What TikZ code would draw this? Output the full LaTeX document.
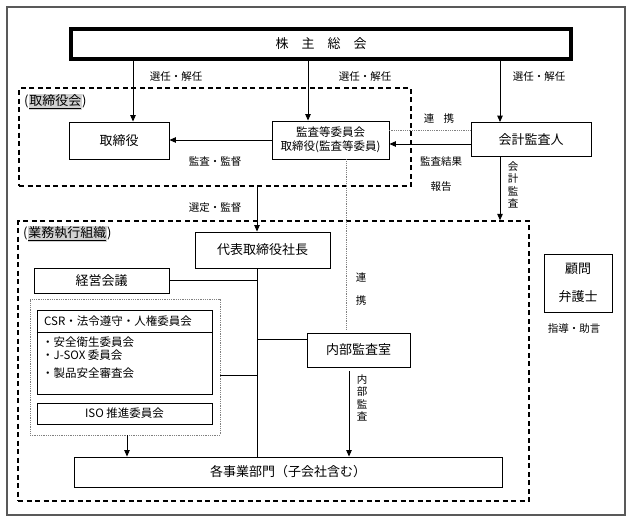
\documentclass[tikz,border=0pt]{standalone}
\usepackage{fontspec}
\setmainfont{Noto Sans CJK JP}
\usetikzlibrary{arrows.meta,calc}
\definecolor{hlgray}{gray}{0.82}
\definecolor{framec}{gray}{0.35}
\newcommand\grayul[1]{{\setlength{\fboxsep}{0.8pt}\colorbox{hlgray}{\underline{#1}}}}
\begin{document}
\begin{tikzpicture}[x=1pt,y=-1pt,
  box/.style={draw, line width=0.9pt, inner sep=0pt, align=center, font=\fontsize{13}{15}\selectfont},
  sbox/.style={box, font=\fontsize{11.5}{14.5}\selectfont},
  lbl/.style={inner sep=0pt, font=\fontsize{10.5}{12}\selectfont},
  vlbl/.style={inner sep=0pt, align=center, font=\fontsize{10.5}{12.3}\selectfont},
  arr/.style={-{Triangle[length=6.5pt,width=5.5pt]}, line width=0.9pt},
  conn/.style={line width=0.9pt},
  dbox/.style={draw, line width=1.3pt, dash pattern=on 5pt off 3.5pt, inner sep=0pt},
  dotl/.style={draw=gray, line width=0.8pt, densely dotted},
  grp/.style={draw=gray, line width=0.8pt, densely dotted, inner sep=0pt}]
\useasboundingbox (0,0) rectangle (632,522);
\draw[framec, line width=1.2pt] (7,7) rectangle (625,515);

% top
\node[box, line width=3.5pt, minimum width=500, minimum height=30, font=\fontsize{13}{15}\selectfont] (soukai) at (321,44) {株　主　総　会};

% board dashed area
\node[dbox, minimum width=392, minimum height=98] (torikai) at (215,137) {};
\node[lbl, font=\fontsize{13}{15}\selectfont, anchor=west] (torikailbl) at (24,102) {(\grayul{取締役会})};

\node[box, minimum width=100, minimum height=37] (tori) at (119,140.5) {取締役};
\node[sbox, minimum width=117, minimum height=38] (kansa) at (330.5,140) {監査等委員会\\取締役(監査等委員)};
\node[box, minimum width=120, minimum height=34] (kaikei) at (531,139.5) {会計監査人};

% arrows from soukai
\draw[arr] ([xshift=14pt]soukai.south -| tori.north) coordinate (a1) -- (a1 |- tori.north);
\draw[arr] ([xshift=-22.5pt]soukai.south -| kansa.north) coordinate (a2) -- (a2 |- kansa.north);
\draw[arr] ([xshift=-31pt]soukai.south -| kaikei.north) coordinate (a3) -- (a3 |- kaikei.north);
\node[lbl] (l1) at (176,77) {選任・解任};
\node[lbl] (l2) at (365,77) {選任・解任};
\node[lbl] (l3) at (539,77) {選任・解任};

% board connections
\draw[arr] (kansa.west) -- (kansa.west -| tori.east);
\node[lbl] (l4) at (215,162) {監査・監督};
\draw[dotl] ([yshift=9.5pt]kaikei.west) coordinate (d1) -- (d1 -| kansa.east);
\draw[arr] ([yshift=-4.5pt]kaikei.west) coordinate (d2) -- (d2 -| kansa.east);
\node[lbl] (l5) at (439,119) {連\hspace{0.9em}携};
\node[lbl] (l6) at (441,162) {監査結果};
\node[lbl] (l7) at (441,187) {報告};

% business execution area
\node[dbox, minimum width=511, minimum height=280] (gyomu) at (273.5,361) {};
\node[lbl, font=\fontsize{13}{15}\selectfont, anchor=west] (gyomulbl) at (23,234) {(\grayul{業務執行組織})};

\draw[arr] ([xshift=-31pt]kaikei.south) coordinate (a4) -- (a4 |- gyomu.north);
\node[vlbl] (l8) at (513,185) {会\\計\\監\\査};

\node[box, minimum width=135, minimum height=36] (daihyo) at (262.5,250) {代表取締役社長};
\coordinate (trunk) at (257,0);
\draw[arr] (trunk |- torikai.south) -- (trunk |- daihyo.north);
\node[lbl] (l9) at (215,208) {選定・監督};

\node[box, minimum width=135, minimum height=25] (keiei) at (101.5,280.5) {経営会議};

\node[grp, minimum width=190, minimum height=136] (grp) at (125,367) {};
\node[draw, line width=0.9pt, inner sep=0pt, minimum width=175, minimum height=84] (csr) at (124.5,352) {};
\draw[conn] ([yshift=-23pt]csr.north west) -- ([yshift=-23pt]csr.north east);
\node[lbl, font=\fontsize{11.5}{13}\selectfont, anchor=west] (csrh) at (44,321.5) {CSR・法令遵守・人権委員会};
\node[lbl, font=\fontsize{11.5}{13}\selectfont, anchor=west] (c1) at (42,342) {・安全衛生委員会};
\node[lbl, font=\fontsize{11.5}{13}\selectfont, anchor=west] (c2) at (42,355) {・J-SOX 委員会};
\node[lbl, font=\fontsize{11.5}{13}\selectfont, anchor=west] (c3) at (42,373) {・製品安全審査会};
\node[sbox, minimum width=175, minimum height=21] (iso) at (124.5,413.5) {ISO 推進委員会};

\node[box, minimum width=103, minimum height=34] (naibu) at (358.5,350) {内部監査室};
\node[box, minimum width=428, minimum height=30] (kaku) at (288,472) {各事業部門（子会社含む）};

\draw[conn] (trunk |- daihyo.south) -- (trunk |- kaku.north);
\draw[conn] (keiei.east) -- (keiei.east -| trunk);
\draw[conn] ([yshift=-8pt]grp.east) coordinate (g1) -- (g1 -| trunk);
\draw[conn] ([yshift=11pt]naibu.west) coordinate (n1) -- (n1 -| trunk);
\draw[arr] ([xshift=2pt]grp.south) coordinate (g2) -- (g2 |- kaku.north);
\draw[arr, shorten <=4pt] ([xshift=-9.5pt]naibu.south) coordinate (n2) -- (n2 |- kaku.north);
\node[vlbl] (l10) at (362,398) {内\\部\\監\\査};

\draw[dotl] ([xshift=15.5pt]kansa.south) coordinate (k1) -- ([yshift=3pt]k1 |- naibu.north);
\node[lbl] (l11) at (361,277) {連};
\node[lbl] (l12) at (361,301) {携};

\node[box, minimum width=68, minimum height=58, font=\fontsize{13}{28}\selectfont] (komon) at (578,283) {顧問\\弁護士};
\node[lbl] (l13) at (574,329) {指導・助言};
\end{tikzpicture}
\end{document}
